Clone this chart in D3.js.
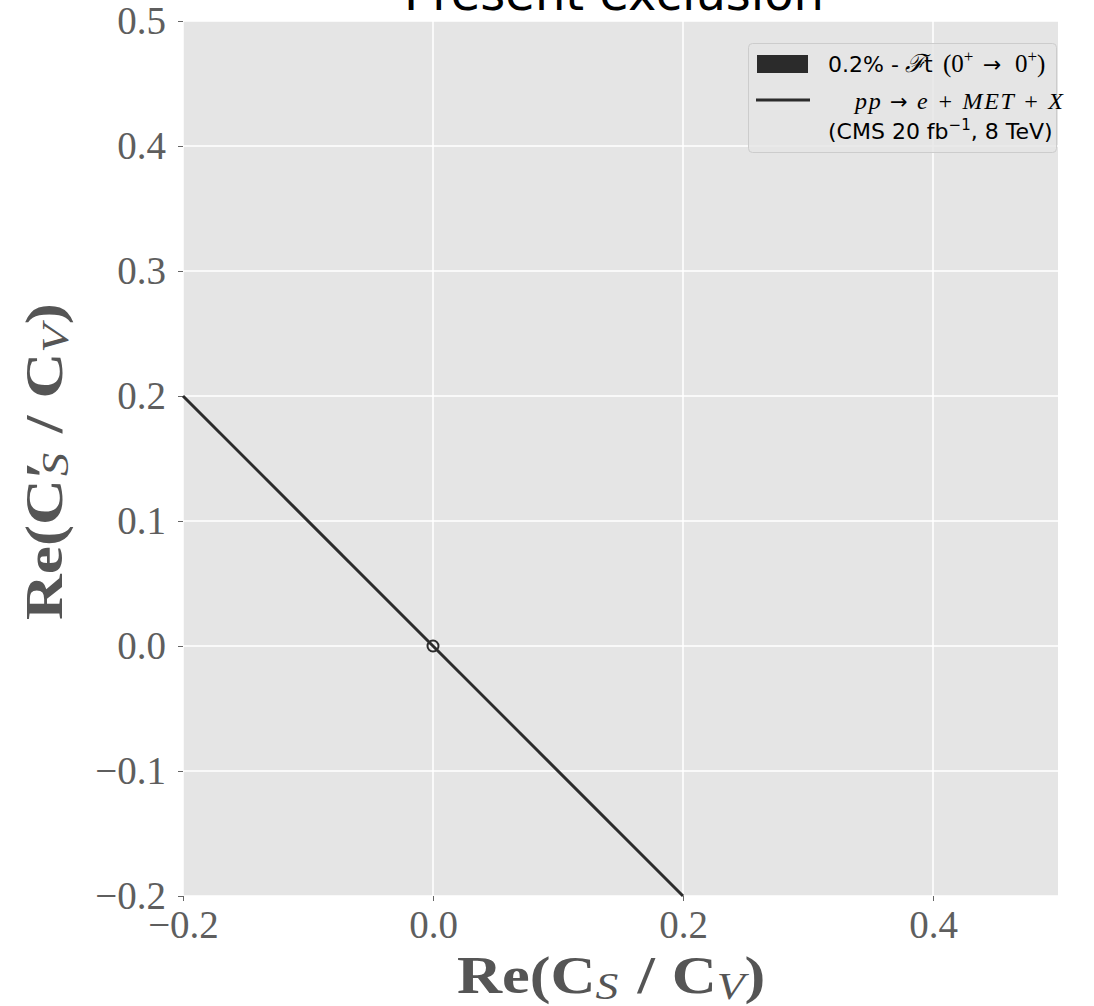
<!DOCTYPE html>
<html>
<head>
<meta charset="utf-8">
<script src="https://cdn.jsdelivr.net/npm/d3@7"></script>
<style>
  html, body { margin: 0; padding: 0; background: #fff; }
  svg { display: block; }
</style>
</head>
<body>
<svg id="chart" width="1094" height="1006"></svg>
<script>
// Axis ranges and ticks
const xDomain = [-0.2, 0.5];
const yDomain = [-0.2, 0.5];
const xTicks = [-0.2, 0.0, 0.2, 0.4];
const yTicks = [-0.2, -0.1, 0.0, 0.1, 0.2, 0.3, 0.4, 0.5];

// Collider constraint line: Re(C'_S/C_V) = -Re(C_S/C_V)
const lhcX = [-0.2, 0.2];
const lhcY = [0.2, -0.2];

// Standard Model point
const smX = [0.0];
const smY = [0.0];

const svg = d3.select("#chart");
const plot = { left: 183, top: 21, right: 1058, bottom: 896 };

const x = d3.scaleLinear().domain(xDomain).range([plot.left, plot.right]);
const y = d3.scaleLinear().domain(yDomain).range([plot.bottom, plot.top]);

const serif = "'Liberation Serif', 'DejaVu Serif', serif";
const sans = "'DejaVu Sans', sans-serif";
const ink = "#2b2b2b";

// Panel background
svg.append("rect")
  .attr("x", plot.left).attr("y", plot.top)
  .attr("width", plot.right - plot.left).attr("height", plot.bottom - plot.top)
  .attr("fill", "#e5e5e5");

// Grid
const grid = svg.append("g");
grid.selectAll(".gx").data(xTicks).enter().append("line")
  .attr("x1", d => x(d)).attr("x2", d => x(d))
  .attr("y1", plot.top).attr("y2", plot.bottom)
  .attr("stroke", "#fff").attr("stroke-width", 1.5);
grid.selectAll(".gy").data(yTicks).enter().append("line")
  .attr("y1", d => y(d)).attr("y2", d => y(d))
  .attr("x1", plot.left).attr("x2", plot.right)
  .attr("stroke", "#fff").attr("stroke-width", 1.5);

const fmt = d => (d < 0 ? "\u2212" : "") + Math.abs(d).toFixed(1);

// Axes
const xAxis = svg.append("g")
  .attr("transform", `translate(0,${plot.bottom})`)
  .call(d3.axisBottom(x).tickValues(xTicks).tickFormat(fmt).tickSize(5).tickPadding(8));
const yAxis = svg.append("g")
  .attr("transform", `translate(${plot.left},0)`)
  .call(d3.axisLeft(y).tickValues(yTicks).tickFormat(fmt).tickSize(5).tickPadding(12));

[xAxis, yAxis].forEach(a => {
  a.select(".domain").remove();
  a.selectAll(".tick line").attr("stroke", "#666").attr("stroke-width", 1);
  a.selectAll(".tick text")
    .attr("font-family", serif)
    .attr("font-size", 39)
    .attr("fill", "#5e5e5e");
});
xAxis.selectAll(".tick text").attr("dy", "0.75em");
yAxis.selectAll(".tick text").attr("dy", "0.33em");

// Collider line
const line = d3.line().x(d => x(d[0])).y(d => y(d[1]));
svg.append("path")
  .datum(d3.zip(lhcX, lhcY))
  .attr("d", line)
  .attr("fill", "none")
  .attr("stroke", ink)
  .attr("stroke-width", 3);

// SM point marker
svg.selectAll(".sm").data(d3.zip(smX, smY)).enter().append("circle")
  .attr("cx", d => x(d[0])).attr("cy", d => y(d[1]))
  .attr("r", 5.5)
  .attr("fill", "none")
  .attr("stroke", ink)
  .attr("stroke-width", 2);

// Title (sits above the panel)
svg.append("text")
  .attr("x", 614).attr("y", 10)
  .attr("text-anchor", "middle")
  .attr("font-family", sans)
  .attr("font-size", 48)
  .attr("fill", "#000")
  .text("Present exclusion");

// Axis label builder: bold "Re(C", italic subscript, " / C", subscript, ")"
// The group is stretched horizontally to give the wide bold-extended look.
function ratioLabel(g, prime) {
  const sel = g.append("text").attr("x", 0).attr("y", 0)
    .attr("font-family", serif).attr("font-size", 52).attr("fill", "#555");
  sel.append("tspan").attr("font-weight", "bold").text(prime ? "Re(C\u2032" : "Re(C");
  sel.append("tspan").attr("font-style", "italic").attr("font-size", 38)
    .attr("dy", 6).attr("dx", prime ? -12 : 0).text("S");
  sel.append("tspan").attr("dy", -6).attr("dx", 16).attr("font-weight", "bold").text("/");
  sel.append("tspan").attr("dx", 14).attr("font-weight", "bold").text("C");
  sel.append("tspan").attr("font-style", "italic").attr("font-size", 38).attr("dy", 6).text("V");
  sel.append("tspan").attr("dy", -6).attr("font-weight", "bold").text(")");
}

ratioLabel(svg.append("g").attr("transform", "translate(457,993) scale(1.2,1)"), false);
ratioLabel(svg.append("g").attr("transform", "translate(62,620) rotate(-90) scale(1.22,1)"), true);

// Legend
const lg = svg.append("g");
lg.append("rect")
  .attr("x", 748.5).attr("y", 43.5).attr("width", 308).attr("height", 109)
  .attr("rx", 4)
  .attr("fill", "#e5e5e5").attr("fill-opacity", 0.8)
  .attr("stroke", "#cccccc").attr("stroke-width", 1);
lg.append("rect")
  .attr("x", 757).attr("y", 55).attr("width", 51).attr("height", 18)
  .attr("fill", ink);
lg.append("line")
  .attr("x1", 756).attr("x2", 810).attr("y1", 100).attr("y2", 100)
  .attr("stroke", ink).attr("stroke-width", 3);

const t1 = lg.append("text")
  .attr("x", 828).attr("y", 72)
  .attr("font-family", sans)
  .attr("font-size", 22)
  .attr("fill", "#000");
t1.append("tspan").text("0.2% -");
t1.append("tspan").attr("x", 905).attr("font-family", serif).attr("font-style", "italic").attr("font-size", 25).text("\u2131");
t1.append("tspan").attr("dx", -2).text("t");
t1.append("tspan").attr("x", 943).attr("font-family", serif).attr("font-size", 25).text("(0");
t1.append("tspan").attr("font-family", serif).attr("font-size", 17).attr("dy", -10).text("+");
t1.append("tspan").attr("x", 983).attr("font-family", sans).attr("font-size", 22).attr("dy", 10).text("\u2192");
t1.append("tspan").attr("x", 1015).attr("font-family", serif).attr("font-size", 25).text("0");
t1.append("tspan").attr("font-family", serif).attr("font-size", 17).attr("dy", -10).text("+");
t1.append("tspan").attr("font-family", serif).attr("font-size", 25).attr("dy", 10).text(")");

const t2 = lg.append("text")
  .attr("x", 855).attr("y", 109)
  .attr("font-family", serif)
  .attr("font-size", 24)
  .attr("font-style", "italic")
  .attr("fill", "#000")
  .attr("textLength", 208)
  .attr("lengthAdjust", "spacing");
t2.append("tspan").text("pp ");
t2.append("tspan").attr("font-family", sans).attr("font-style", "normal").attr("font-size", 21).text("\u2192");
t2.append("tspan").text(" e + MET + X");

const t3 = lg.append("text")
  .attr("x", 828).attr("y", 139)
  .attr("font-family", sans)
  .attr("font-size", 22)
  .attr("fill", "#000");
t3.append("tspan").text("(CMS 20 fb");
t3.append("tspan").attr("font-size", 15).attr("dy", -9).text("\u22121");
t3.append("tspan").attr("dy", 9).text(", 8 TeV)");
</script>
</body>
</html>
